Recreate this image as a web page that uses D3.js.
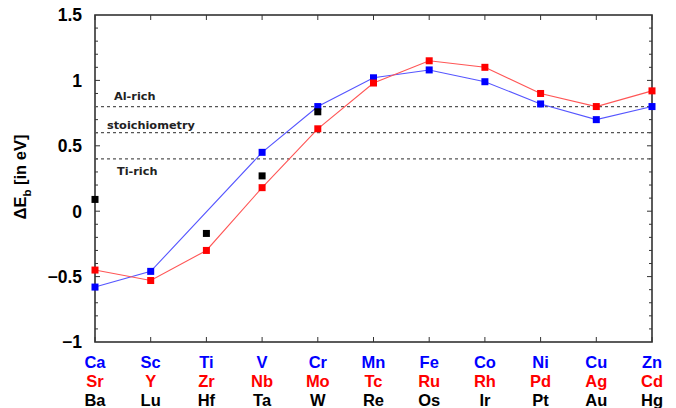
<!DOCTYPE html>
<html>
<head>
<meta charset="utf-8">
<script src="https://cdn.jsdelivr.net/npm/d3@7"></script>
<style>
  html, body { margin: 0; padding: 0; background: #fff; }
  svg { display: block; font-family: "Liberation Sans", Arial, sans-serif; }
</style>
</head>
<body>
<svg id="chart" width="676" height="408"></svg>
<script>
// Element groups, one column per transition-metal group
const row3d = ["Ca", "Sc", "Ti", "V", "Cr", "Mn", "Fe", "Co", "Ni", "Cu", "Zn"];
const row4d = ["Sr", "Y", "Zr", "Nb", "Mo", "Tc", "Ru", "Rh", "Pd", "Ag", "Cd"];
const row5d = ["Ba", "Lu", "Hf", "Ta", "W", "Re", "Os", "Ir", "Pt", "Au", "Hg"];

// ΔE_b values in eV (null = not computed)
const values3d = [-0.58, -0.46, null, 0.45, 0.80, 1.02, 1.08, 0.99, 0.82, 0.70, 0.80];
const values4d = [-0.45, -0.53, -0.30, 0.18, 0.63, 0.98, 1.15, 1.10, 0.90, 0.80, 0.92];
const values5d = [0.09, null, -0.17, 0.27, 0.76, null, null, null, null, null, null];

// Reference levels for the growth conditions
const levelNames = ["Al-rich", "stoichiometry", "Ti-rich"];
const levelValues = [0.8, 0.6, 0.4];

const yTickValues = [-1, -0.5, 0, 0.5, 1, 1.5];

const svg = d3.select("#chart");
const plotL = 95, plotR = 652, plotT = 15, plotB = 342;
const axisColor = "#333";

const x = d3.scalePoint().domain(d3.range(row3d.length)).range([plotL, plotR]);
const y = d3.scaleLinear().domain([-1, 1.5]).range([plotB, plotT]);

// Minor ticks every 0.1 on both vertical sides
const minorTicks = d3.range(-10, 16).map(d => d / 10).filter(v => v > -1 && v < 1.5);
const tickG = svg.append("g").attr("stroke", axisColor).attr("stroke-width", 1);
minorTicks.forEach(v => {
  const len = Math.abs(Math.round(v * 10) % 5) === 0 ? 5 : 3;
  tickG.append("line").attr("x1", plotL).attr("x2", plotL + len).attr("y1", y(v)).attr("y2", y(v));
  tickG.append("line").attr("x1", plotR).attr("x2", plotR - len).attr("y1", y(v)).attr("y2", y(v));
});
// Category ticks on top and bottom
x.domain().forEach(i => {
  tickG.append("line").attr("x1", x(i)).attr("x2", x(i)).attr("y1", plotT).attr("y2", plotT + 5);
  tickG.append("line").attr("x1", x(i)).attr("x2", x(i)).attr("y1", plotB).attr("y2", plotB - 5);
});

// Frame
svg.append("rect")
  .attr("x", plotL).attr("y", plotT)
  .attr("width", plotR - plotL).attr("height", plotB - plotT)
  .attr("fill", "none").attr("stroke", axisColor).attr("stroke-width", 1.6);

// Y tick labels
const fmt = v => (v < 0 ? "\u2212" : "") + String(Math.abs(v));
svg.append("g").selectAll("text").data(yTickValues).join("text")
  .attr("x", plotL - 13).attr("y", d => y(d))
  .attr("dy", "0.36em")
  .attr("text-anchor", "end")
  .attr("font-size", 17.5).attr("font-weight", "bold")
  .text(fmt);

// Y axis title
svg.append("text")
  .attr("transform", "translate(26,177) rotate(-90)")
  .attr("text-anchor", "middle")
  .attr("font-size", 16.5).attr("font-weight", "bold")
  .call(t => {
    t.append("tspan").text("\u0394E");
    t.append("tspan").attr("font-size", 11.5).attr("dy", 5).text("b");
    t.append("tspan").attr("dy", -5).text(" [in eV]");
  });

// Category labels, three rows
const rows = [
  { names: row3d, color: "#0000ff", y: 368 },
  { names: row4d, color: "#ff0000", y: 387 },
  { names: row5d, color: "#000000", y: 406 }
];
rows.forEach(r => {
  svg.append("g").selectAll("text").data(r.names).join("text")
    .attr("x", (d, i) => x(i)).attr("y", r.y)
    .attr("text-anchor", "middle")
    .attr("font-size", 16.5).attr("font-weight", "bold")
    .attr("fill", r.color)
    .text(d => d);
});

// Reference levels
svg.append("g").selectAll("line").data(levelValues).join("line")
  .attr("x1", plotL).attr("x2", plotR)
  .attr("y1", d => y(d)).attr("y2", d => y(d))
  .attr("stroke", "#555").attr("stroke-width", 1.2)
  .attr("stroke-dasharray", "3,3");

const levelLabelPos = [{ x: 114, dy: -7 }, { x: 107, dy: -4 }, { x: 117, dy: 16 }];
svg.append("g").selectAll("text").data(levelNames).join("text")
  .attr("x", (d, i) => levelLabelPos[i].x)
  .attr("y", (d, i) => y(levelValues[i]) + levelLabelPos[i].dy)
  .attr("font-family", "'DejaVu Sans', sans-serif")
  .attr("font-size", 11.3).attr("font-weight", "bold")
  .attr("fill", "#222")
  .text(d => d);

// Series
const series = [
  { values: values3d, line: "#5555ff", fill: "#0000ff", connect: true },
  { values: values4d, line: "#ff5555", fill: "#ff0000", connect: true },
  { values: values5d, line: null, fill: "#000000", connect: false }
];
const lineGen = d3.line().x(d => x(d.i)).y(d => y(d.v));
series.forEach(s => {
  const pts = s.values.map((v, i) => ({ i, v })).filter(d => d.v !== null);
  if (s.connect) {
    svg.append("path").datum(pts)
      .attr("d", lineGen)
      .attr("fill", "none")
      .attr("stroke", s.line).attr("stroke-width", 1.1);
  }
  svg.append("g").selectAll("rect").data(pts).join("rect")
    .attr("x", d => x(d.i) - 3.5).attr("y", d => y(d.v) - 3.5)
    .attr("width", 7).attr("height", 7)
    .attr("fill", s.fill);
});
</script>
</body>
</html>
